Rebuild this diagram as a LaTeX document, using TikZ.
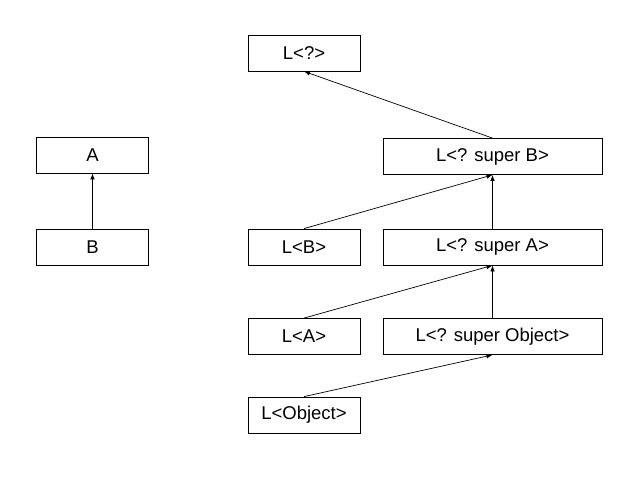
\documentclass[tikz,border=0pt]{standalone}
\usepackage{fontspec}
\setmainfont{Liberation Sans}
\usetikzlibrary{arrows.meta}
\begin{document}
\begin{tikzpicture}[x=1pt,y=-1pt,
  box/.style={draw,line width=0.8pt,minimum height=36pt,inner sep=0pt,font=\fontsize{18.5pt}{20pt}\selectfont},
  small/.style={box,minimum width=112pt},
  wide/.style={box,minimum width=219pt},
  arr/.style={-{Latex[length=6pt,width=4.5pt]},line width=0.7pt}]
\useasboundingbox (0,0) rectangle (618,478);
\node[small] (A) at (92.5,155) {A};
\node[small] (B) at (92.5,247) {B};
\node[small] (Lq) at (304,53) {L<?>};
\node[wide] (SB) at (492.5,156.5) {L<? super B>};
\node[small] (LB) at (304,247) {L<B>};
\node[wide] (SA) at (492.5,247) {L<? super A>};
\node[small] (LA) at (304,336.5) {L<A>};
\node[wide] (SO) at (492.5,336.5) {L<? super Object>};
\node[small] (LO) at (304,415) {L<Object>};
\draw[arr] (B.north) -- (A.south);
\draw[arr] (SB.north) -- (Lq.south);
\draw[arr] (LB.north) -- (SB.south);
\draw[arr] (SA.north) -- (SB.south);
\draw[arr] (LA.north) -- (SA.south);
\draw[arr] (SO.north) -- (SA.south);
\draw[arr] (LO.north) -- (SO.south);
\end{tikzpicture}
\end{document}
